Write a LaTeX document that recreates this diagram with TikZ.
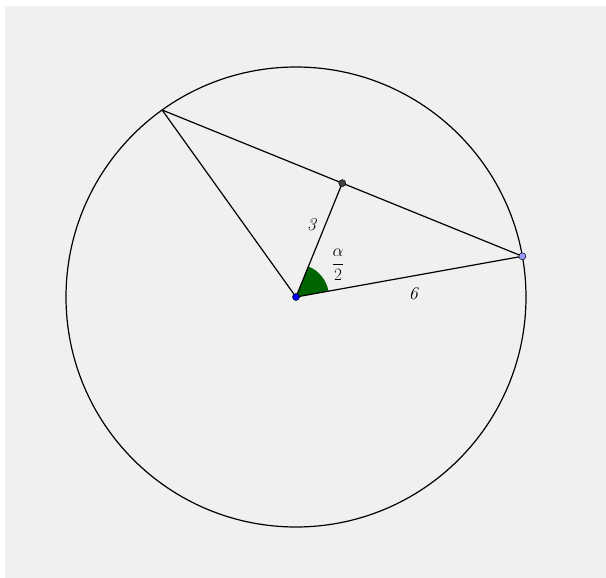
\documentclass[tikz,border=0pt]{standalone}
\usepackage{tikz}
\usetikzlibrary{positioning,calc}

\definecolor{bggray}{HTML}{F0F0F0}
\definecolor{anglegreen}{HTML}{006400}
\definecolor{ptblue}{HTML}{0000FF}
\definecolor{ptlilac}{HTML}{9999FF}
\definecolor{ptgray}{HTML}{444444}

\tikzset{
  seg/.style={line width=1.2pt,black},
  dot/.style={circle,draw=black,line width=0.5pt,inner sep=0pt,minimum size=7pt},
  lab/.style={font=\fontsize{18}{20}\selectfont}
}

\begin{document}
\begin{tikzpicture}[x=1pt,y=1pt]

		% Frame
		\useasboundingbox (0,0) rectangle (606,-578);
		\fill[bggray] (5,-6) rectangle (606,-578);

		% Circle
		\coordinate (O) at (296,-297);
		\draw[seg] (O) circle (230);

		% Chord and midpoint
		\coordinate (A) at ($(O)+(125.6:230)$);
		\coordinate (B) at ($(O)+(10.2:230)$);
		\coordinate (M) at ($(A)!0.5!(B)$);

		% Half angle
		\fill[anglegreen] (O) -- ($(O)+(10.2:33)$) arc (10.2:67.9:33) -- cycle;

		\draw[seg] (A) -- (B);
		\draw[seg] (O) -- (A);
		\draw[seg] (O) -- (B);
		\draw[seg] (O) -- (M);

		% Labels
		\node[lab] (three) at (312,-225) {\textit{3}};
		\node[lab] (six) at (414,-294) {\textit{6}};
		\node[lab] (half) at (338,-265) {$\displaystyle\frac{\alpha}{2}$};

		% Points
		\node[dot,fill=ptgray] (Mdot) at (M) {};
		\node[dot,fill=ptlilac] (Bdot) at (B) {};
		\node[dot,fill=ptblue] (Odot) at (O) {};

	\end{tikzpicture}
\end{document}
